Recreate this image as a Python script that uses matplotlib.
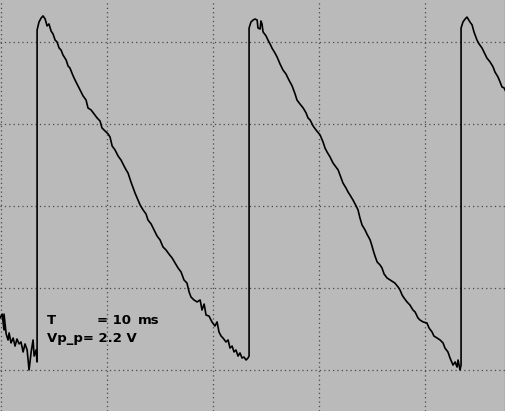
import matplotlib
matplotlib.use('Agg')
import matplotlib.pyplot as plt
import numpy as np

# scope trace: time [ms] and voltage [V]
t_ms = [
    -10.05, -9.95, -9.86, -9.86, -9.76, -9.67, -9.62, -9.53, -9.43, -9.34,
    -9.25, -9.15, -9.06, -8.96, -8.87, -8.77, -8.68, -8.58, -8.49, -8.44,
    -8.35, -8.30, -8.30,
    -8.21, -8.11, -8.02, -7.92, -7.83, -7.74, -7.64, -7.55, -7.45, -7.36,
    -7.26, -7.17, -7.08, -6.93, -6.84, -6.75, -6.60, -6.51, -6.37, -6.27,
    -6.13, -5.99, -5.90, -5.75, -5.61, -5.47, -5.33, -5.24, -5.09, -4.95,
    -4.86, -4.76, -4.62, -4.48, -4.34, -4.20, -4.10, -4.01, -3.87, -3.77,
    -3.68, -3.54, -3.44, -3.30, -3.16, -3.07, -2.92, -2.78, -2.64, -2.50,
    -2.36, -2.22, -2.08, -1.93, -1.79, -1.65, -1.51, -1.37, -1.23, -1.13,
    -1.04, -0.90, -0.75, -0.61, -0.52, -0.42, -0.33, -0.19, -0.05, 0.09,
    0.19, 0.28, 0.38, 0.47, 0.61, 0.71, 0.80, 0.90, 0.99, 1.08,
    1.18, 1.27, 1.37, 1.46, 1.56, 1.65, 1.70, 1.70,
    1.79, 1.89, 1.98, 2.08, 2.12, 2.22, 2.26, 2.31, 2.36, 2.50,
    2.59, 2.69, 2.78, 2.92, 3.02, 3.16, 3.30, 3.44, 3.58, 3.73,
    3.87, 3.96, 4.10, 4.25, 4.39, 4.48, 4.58, 4.72, 4.86, 5.05,
    5.19, 5.28, 5.38, 5.52, 5.66, 5.80, 5.90, 6.04, 6.13, 6.27,
    6.37, 6.46, 6.60, 6.75, 6.84, 6.93, 7.03, 7.17, 7.26, 7.41,
    7.50, 7.55, 7.64, 7.74, 7.88, 7.97, 8.07, 8.21, 8.35, 8.49,
    8.58, 8.73, 8.82, 8.92, 9.01, 9.15, 9.29, 9.43, 9.53, 9.67,
    9.76, 9.91, 10.09, 10.19, 10.33, 10.42, 10.57, 10.71, 10.85, 10.94,
    11.08, 11.18, 11.32, 11.42, 11.51, 11.56, 11.65, 11.70, 11.70,
    11.79, 11.89, 11.98, 12.12, 12.22, 12.31, 12.45, 12.55, 12.69, 12.78,
    12.92, 13.07, 13.21, 13.30, 13.44, 13.54, 13.63, 13.73, 13.82,
]
v_volts = [
    -0.683, -0.659, -0.756, -0.659, -0.780, -0.817, -0.774, -0.835, -0.805, -0.854,
    -0.811, -0.841, -0.829, -0.890, -0.841, -0.878, -1.000, -0.890, -0.817, -0.915,
    -0.878, -0.951, 1.073,
    1.122, 1.146, 1.159, 1.140, 1.098, 1.110, 1.067, 1.049, 1.012, 1.000,
    0.963, 0.951, 0.921, 0.890, 0.854, 0.841, 0.793, 0.768, 0.732, 0.707,
    0.671, 0.646, 0.598, 0.585, 0.561, 0.537, 0.518, 0.476, 0.457, 0.439,
    0.421, 0.366, 0.341, 0.305, 0.280, 0.244, 0.220, 0.201, 0.146, 0.110,
    0.079, 0.037, 0.006, -0.024, -0.049, -0.085, -0.110, -0.146, -0.183, -0.207,
    -0.250, -0.268, -0.293, -0.317, -0.348, -0.378, -0.402, -0.451, -0.470, -0.524,
    -0.555, -0.573, -0.585, -0.573, -0.634, -0.598, -0.665, -0.671, -0.707, -0.732,
    -0.707, -0.768, -0.793, -0.805, -0.829, -0.817, -0.866, -0.854, -0.890, -0.878,
    -0.915, -0.896, -0.927, -0.921, -0.939, -0.927, -0.915, 1.085,
    1.122, 1.134, 1.140, 1.134, 1.085, 1.079, 1.128, 1.110, 1.061, 1.037,
    1.012, 0.988, 0.963, 0.933, 0.909, 0.866, 0.829, 0.805, 0.768, 0.732,
    0.683, 0.646, 0.622, 0.598, 0.567, 0.537, 0.524, 0.488, 0.463, 0.433,
    0.390, 0.354, 0.329, 0.299, 0.262, 0.238, 0.220, 0.171, 0.140, 0.110,
    0.085, 0.067, 0.037, 0.000, -0.024, -0.073, -0.116, -0.146, -0.171, -0.207,
    -0.244, -0.268, -0.305, -0.341, -0.360, -0.378, -0.415, -0.439, -0.451, -0.463,
    -0.470, -0.494, -0.512, -0.543, -0.561, -0.585, -0.604, -0.634, -0.646, -0.683,
    -0.695, -0.707, -0.713, -0.744, -0.768, -0.793, -0.805, -0.817, -0.835, -0.866,
    -0.890, -0.927, -0.970, -0.951, -0.982, -0.939, -1.000, -0.970, 1.085,
    1.122, 1.140, 1.152, 1.122, 1.104, 1.061, 1.012, 0.988, 0.963, 0.939,
    0.902, 0.878, 0.848, 0.817, 0.787, 0.756, 0.726, 0.720, 0.695,
]

# screen setup: 5 ms/div, 0.5 V/div
grid_t = [-10, -5, 0, 5, 10]
grid_v = [-1.0, -0.5, 0.0, 0.5, 1.0]

fig = plt.figure(figsize=(5.06, 4.11), dpi=100)
ax = fig.add_axes([0, 0, 1, 1])
ax.set_facecolor('#bababa')
fig.patch.set_facecolor('#bababa')

for g in grid_t:
    ax.axvline(g, color='#4a4a4a', lw=0.9, linestyle=(0, (1, 2.5)), zorder=1)
for g in grid_v:
    ax.axhline(g, color='#4a4a4a', lw=0.9, linestyle=(0, (1, 2.5)), zorder=1)

ax.plot(t_ms, v_volts, color='black', lw=1.2, zorder=3)

# measurement readout
txt = dict(fontsize=9.5, weight='bold', ha='left', va='center', zorder=4)
ax.text(-7.83, -0.70, "T", **txt)
ax.text(-5.47, -0.70, "= 10", **txt)
ax.text(-3.54, -0.70, "ms", **txt)
ax.text(-7.83, -0.81, "Vp_p= 2.2 V", **txt)

ax.set_xlim(-10.05, 13.82)
ax.set_ylim(-1.25, 1.256)
ax.set_xticks([])
ax.set_yticks([])
for side in ['top', 'left', 'bottom']:
    ax.spines[side].set_visible(False)
ax.spines['right'].set_color('black')
ax.spines['right'].set_linewidth(1.5)

fig.savefig('out.png', dpi=100)
